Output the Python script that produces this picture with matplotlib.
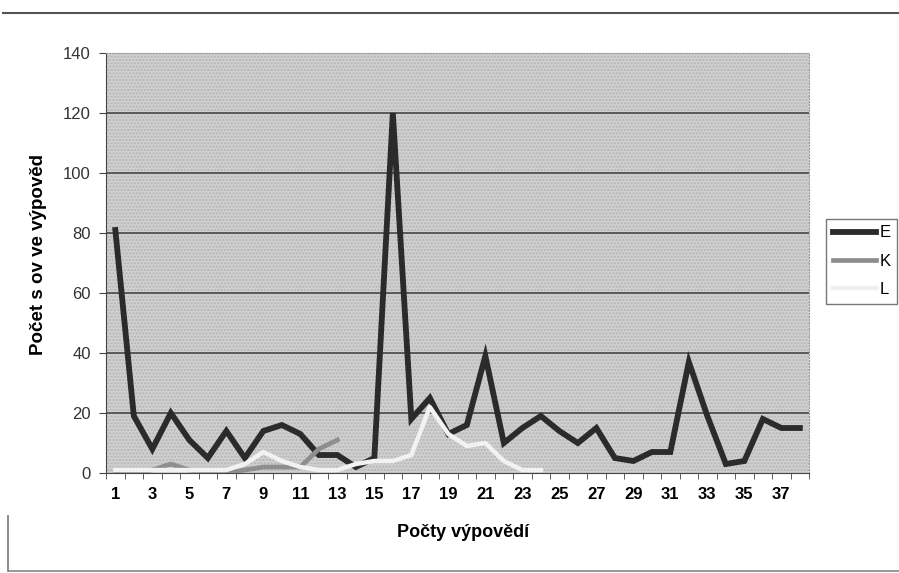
import numpy as np
import matplotlib.pyplot as plt
from matplotlib.lines import Line2D

plt.rcParams['font.family'] = ['Liberation Sans', 'DejaVu Sans']

# categories 1..38 (number of utterances)
categories = list(range(1, 39))

nan = np.nan
E = [81, 19, 8, 20, 11, 5, 14, 5, 14, 16, 13, 6, 6, 2, 5, 120, 18, 25, 13, 16,
     39, 10, 15, 19, 14, 10, 15, 5, 4, 7, 7, 37, 19, 3, 4, 18, 15, 15]
K = [0, 0, 1, 3, 1, 0, 0, 1, 2, 2, 2, 8, 11] + [nan] * 25
L = [1, 1, 1, 1, 1, 1, 1, 3, 7, 4, 2, 1, 1, 3, 4, 4, 6, 22, 13, 9,
     10, 4, 1, 1] + [nan] * 14

y_ticks = [0, 20, 40, 60, 80, 100, 120, 140]
x_labels = [str(c) for c in categories[::2]]

fig = plt.figure(figsize=(8.99, 5.73), dpi=100)
ax = fig.add_axes([0.118, 0.1745, 0.782, 0.733])

ax.set_facecolor('#d0d0d0')
ax.patch.set_hatch('.....')
ax.patch.set_edgecolor('#b4b4b4')

for yv in y_ticks[1:-1]:
    ax.axhline(yv, color='#3c3c3c', lw=1.1, zorder=1)

ax.plot(categories, E, color='#2b2b2b', lw=4.2, solid_joinstyle='miter', zorder=3)
ax.plot(categories, K, color='#8e8e8e', lw=3.4, zorder=4)
ax.plot(categories, L, color='#f2f2f2', lw=3.2, zorder=5)

ax.set_xlim(0.5, 38.5)
ax.set_ylim(0, 140)
ax.set_yticks(y_ticks)
ax.set_yticklabels([str(v) for v in y_ticks], fontsize=12, color='#333333')
ax.set_xticks(categories[::2])
ax.set_xticklabels(x_labels, fontsize=12, fontweight='bold')
ax.set_xticks(np.arange(0.5, 39, 1), minor=True)
ax.tick_params(axis='x', which='major', length=0, pad=10)
ax.tick_params(axis='x', which='minor', length=4, color='#444444', direction='out')
ax.tick_params(axis='y', length=5, color='#444444', direction='out', pad=6)

for side in ['top', 'right']:
    ax.spines[side].set_color('#999999')
    ax.spines[side].set_linestyle(':')
ax.spines['left'].set_color('#444444')
ax.spines['bottom'].set_color('#444444')

fig.text(0.515, 0.071, 'Počty výpovědí', fontsize=13, fontweight='bold',
         ha='center', va='center')
fig.text(0.043, 0.555, 'Počet s ov ve výpověd', fontsize=13.5, fontweight='bold',
         ha='center', va='center', rotation=90)

handles = [Line2D([], [], color='#2b2b2b', lw=4.2),
           Line2D([], [], color='#8e8e8e', lw=3.4),
           Line2D([], [], color='#f0f0f0', lw=3.2)]
leg = fig.legend(handles, ['E', 'K', 'L'], loc='center left',
                 bbox_to_anchor=(0.919, 0.544), fontsize=12, frameon=True,
                 fancybox=False, edgecolor='#555555', handlelength=2.6,
                 handletextpad=0.2, borderpad=0.4, labelspacing=0.8,
                 borderaxespad=0)
leg.get_frame().set_linewidth(1.0)

# outer chart border (scanned page)
fig.add_artist(Line2D([0.003, 1.0], [0.977, 0.977], color='#555555', lw=1.5))
fig.add_artist(Line2D([0.01, 1.0], [0.004, 0.004], color='#888888', lw=1.2))
fig.add_artist(Line2D([0.009, 0.009], [0.004, 0.1], color='#777777', lw=1.2))

fig.savefig('out.png', dpi=100, facecolor='white')
